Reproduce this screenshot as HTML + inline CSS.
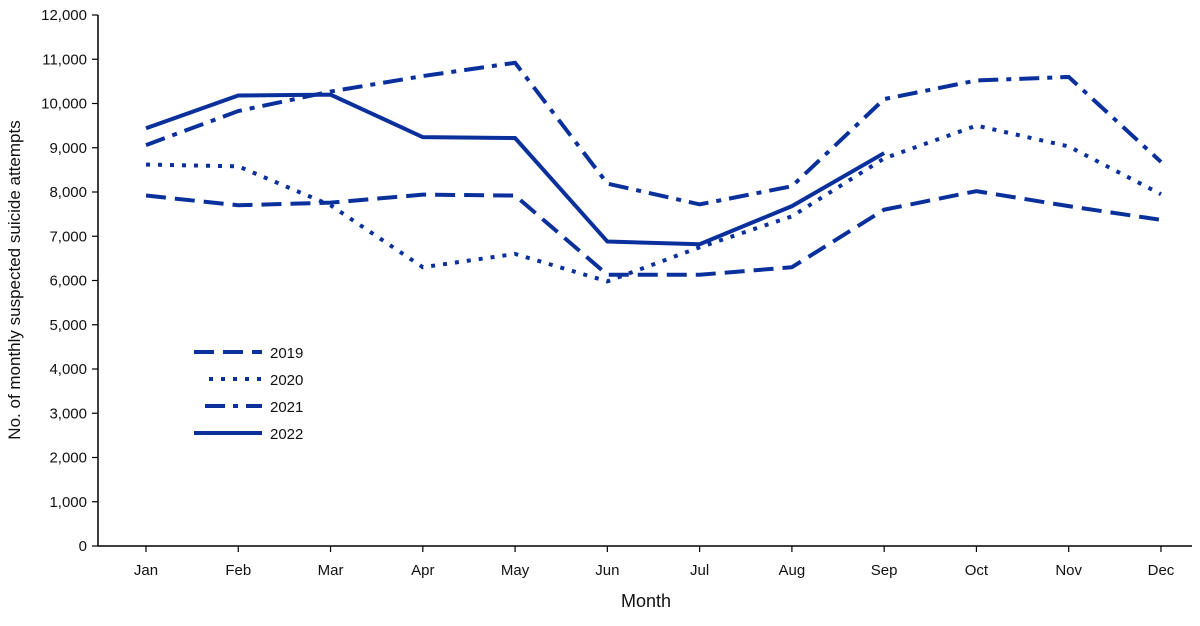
<!DOCTYPE html>
<html><head><meta charset="utf-8"><style>body{margin:0;background:#fff}svg{display:block}text{font-family:"Liberation Sans",sans-serif;fill:#111}</style></head><body>
<svg width="1200" height="626" viewBox="0 0 1200 626">
<g stroke="#000" stroke-width="1.5" fill="none">
<line x1="98" y1="15" x2="98" y2="546"/>
<line x1="98" y1="546" x2="1192" y2="546"/>
</g>
<g stroke="#000" stroke-width="1.2" id="ticks"></g>
<g font-size="15" text-anchor="end" id="yl"></g>
<g font-size="15" text-anchor="middle" id="xl"></g>
<text x="646" y="607" font-size="18" text-anchor="middle">Month</text>
<text transform="translate(20,280) rotate(-90)" font-size="17" text-anchor="middle">No. of monthly suspected suicide attempts</text>
<g fill="none" stroke="#0a309c" stroke-width="4" id="lines"></g>
<g stroke="#0a309c" stroke-width="4">
<line x1="194" y1="352" x2="262" y2="352" stroke-dasharray="20,9"/>
<line x1="209" y1="379" x2="262" y2="379" stroke-dasharray="4,8"/>
<line x1="205" y1="406" x2="262" y2="406" stroke-dasharray="20,8,5,8"/>
<line x1="194" y1="433" x2="262" y2="433"/>
</g>
<g font-size="15"><text x="270" y="358">2019</text><text x="270" y="385">2020</text><text x="270" y="412">2021</text><text x="270" y="439">2022</text></g>
<script>
var ns="http://www.w3.org/2000/svg";
function el(p,t,a,tx){var e=document.createElementNS(ns,t);for(var k in a)e.setAttribute(k,a[k]);if(tx)e.textContent=tx;document.getElementById(p).appendChild(e);}
function Y(v){return 546-v*0.04425;}function X(i){return 146+i*92.27;}
for(var v=0;v<=12000;v+=1000){el("ticks","line",{x1:92,x2:98,y1:Y(v),y2:Y(v)});el("yl","text",{x:87,y:Y(v)+5},v.toLocaleString("en-US"));}
var m=["Jan","Feb","Mar","Apr","May","Jun","Jul","Aug","Sep","Oct","Nov","Dec"];
m.forEach(function(s,i){el("ticks","line",{x1:X(i),x2:X(i),y1:546,y2:552});el("xl","text",{x:X(i),y:575},s);});
var d=[[[7920,7700,7760,7940,7920,6130,6130,6300,7600,8020,7680,7370],"20,9"],
[[8620,8580,7700,6300,6600,5980,6750,7450,8760,9500,9030,7950],"4,8"],
[[9060,9830,10270,10620,10920,8190,7720,8130,10100,10520,10600,8680],"20,8,5,8"],
[[9440,10180,10200,9240,9220,6880,6820,7680,8880],"none"]];
d.forEach(function(s){el("lines","polyline",{points:s[0].map(function(v,i){return X(i)+","+Y(v)}).join(" "),"stroke-dasharray":s[1]});});
</script>
</svg></body></html>
